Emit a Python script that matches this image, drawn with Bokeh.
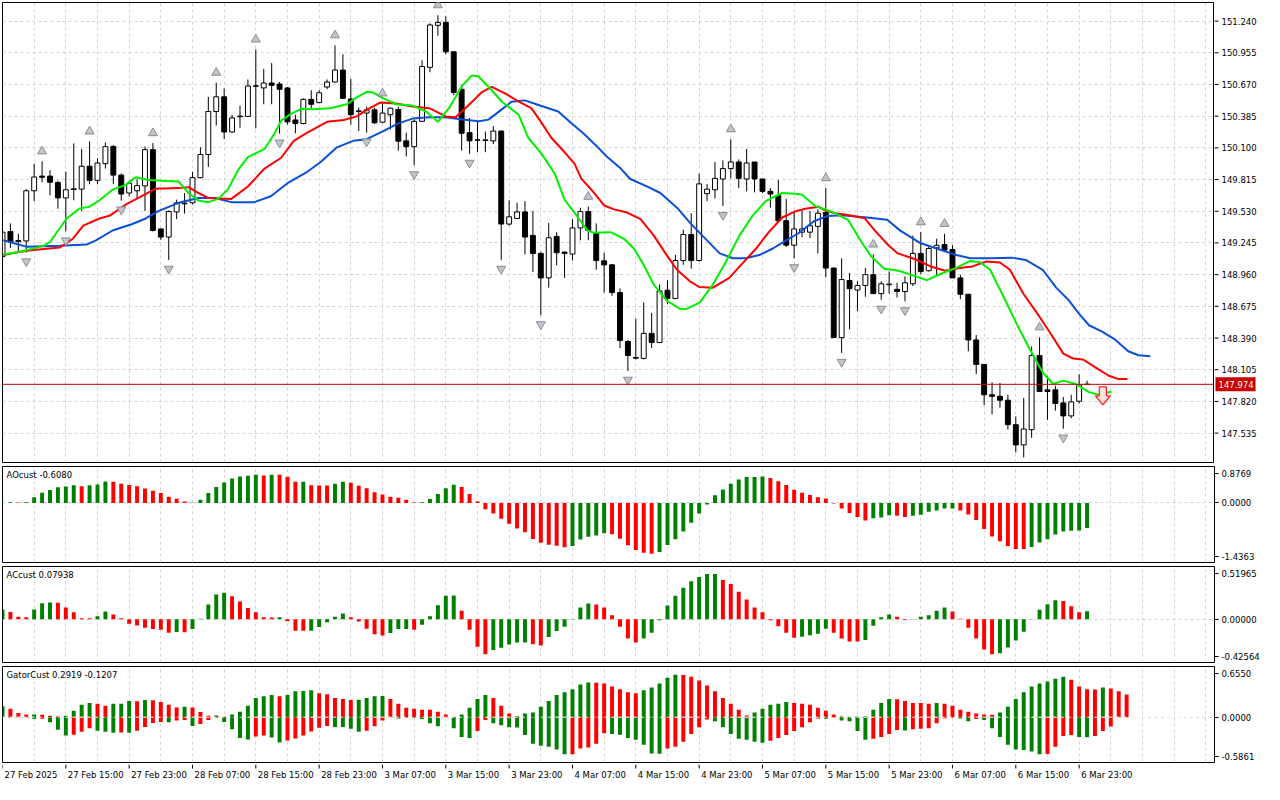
from bokeh.plotting import figure
from bokeh.models import Range1d, FixedTicker, Label, Span, ColumnDataSource, Grid
from bokeh.layouts import column, row
from bokeh.core.properties import value
from bokeh.embed import file_html
from bokeh.resources import INLINE

# ---------------- data ----------------
time_tick_bars = [0, 8, 16, 24, 32, 40, 48, 56, 64, 72, 80, 88, 96, 104, 112, 120, 128, 136]
time_tick_labels = ["27 Feb 2025", "27 Feb 15:00", "27 Feb 23:00", "28 Feb 07:00", "28 Feb 15:00",
                    "28 Feb 23:00", "3 Mar 07:00", "3 Mar 15:00", "3 Mar 23:00", "4 Mar 07:00",
                    "4 Mar 15:00", "4 Mar 23:00", "5 Mar 07:00", "5 Mar 15:00", "5 Mar 23:00",
                    "6 Mar 07:00", "6 Mar 15:00", "6 Mar 23:00"]
price_ticks = [151.240, 150.955, 150.670, 150.385, 150.100, 149.815, 149.530, 149.245,
               148.960, 148.675, 148.390, 148.105, 147.820, 147.535]

opens = [149.122, 149.348, 149.266, 149.263, 149.714, 149.846, 149.846, 149.788, 149.650, 149.726,
         149.729, 149.935, 149.808, 149.958, 150.113, 149.855, 149.694, 149.714, 149.758, 150.084,
         149.371, 149.298, 149.524, 149.597, 149.606, 149.832, 150.040, 150.427, 150.559, 150.243,
         150.380, 150.383, 150.653, 150.639, 150.683, 150.674, 150.639, 150.351, 150.319, 150.536,
         150.507, 150.647, 150.692, 150.800, 150.539, 150.427, 150.413, 150.442, 150.331, 150.398,
         150.445, 150.163, 150.111, 150.339, 150.824, 151.202, 151.228, 150.964, 150.627, 150.237,
         150.172, 150.166, 150.163, 150.251, 149.415, 149.465, 149.524, 149.313, 149.151, 148.931,
         149.304, 149.163, 149.145, 149.380, 149.527, 149.336, 149.084, 149.048, 148.799, 148.359,
         148.215, 148.207, 148.432, 148.350, 148.820, 148.746, 149.087, 149.321, 149.087, 149.688,
         149.723, 149.820, 149.914, 149.973, 149.820, 149.973, 149.820, 149.709, 149.671, 149.445,
         149.225, 149.342, 149.342, 149.394, 149.518, 149.019, 148.394, 148.907, 148.822, 148.863,
         148.960, 148.790, 148.869, 148.828, 148.808, 148.878, 149.151, 148.995, 149.201, 149.230,
         149.186, 148.931, 148.784, 148.373, 148.153, 147.880, 147.866, 147.831, 147.611, 147.429,
         147.566, 148.232, 147.924, 147.924, 147.807, 147.690, 147.822, 147.974]
highs = [149.371, 149.421, 149.327, 149.729, 149.958, 149.979, 149.899, 149.803, 149.885, 150.140,
         150.090, 150.158, 150.008, 150.149, 150.125, 149.870, 149.803, 149.817, 150.111, 150.143,
         149.377, 149.538, 149.635, 149.694, 149.885, 150.105, 150.559, 150.686, 150.633, 150.398,
         150.480, 150.715, 150.985, 150.809, 150.862, 150.692, 150.647, 150.398, 150.545, 150.618,
         150.618, 150.715, 151.023, 150.941, 150.721, 150.462, 150.471, 150.462, 150.500, 150.462,
         150.471, 150.237, 150.354, 150.888, 151.220, 151.293, 151.284, 150.964, 150.668, 150.369,
         150.334, 150.246, 150.295, 150.257, 149.629, 149.606, 149.621, 149.533, 149.166, 149.424,
         149.342, 149.166, 149.459, 149.562, 149.571, 149.421, 149.157, 149.054, 148.837, 148.374,
         148.564, 148.711, 148.617, 148.872, 148.908, 149.137, 149.365, 149.512, 149.870, 149.776,
         149.973, 149.987, 150.178, 149.996, 150.090, 149.973, 149.820, 149.738, 149.811, 149.641,
         149.533, 149.532, 149.532, 149.547, 149.738, 149.025, 149.107, 148.975, 148.901, 149.019,
         149.142, 148.901, 148.989, 148.887, 148.945, 149.312, 149.342, 149.218, 149.283, 149.327,
         149.224, 148.960, 148.784, 148.417, 148.153, 147.992, 147.986, 147.880, 147.684, 147.851,
         148.315, 148.397, 148.051, 147.962, 147.860, 147.880, 148.065, 148.007]
lows = [149.093, 149.201, 149.166, 149.160, 149.621, 149.791, 149.673, 149.553, 149.348, 149.629,
        149.533, 149.773, 149.776, 149.914, 149.776, 149.626, 149.665, 149.650, 149.533, 149.348,
        149.274, 149.093, 149.459, 149.509, 149.591, 149.826, 149.929, 150.301, 150.178, 150.237,
        150.281, 150.378, 150.275, 150.492, 150.492, 150.228, 150.310, 150.231, 150.310, 150.457,
        150.501, 150.627, 150.686, 150.545, 150.310, 150.251, 150.237, 150.316, 150.322, 150.266,
        150.075, 150.023, 149.943, 150.334, 150.780, 151.108, 150.941, 150.574, 150.075, 150.046,
        150.061, 150.061, 150.134, 149.093, 149.401, 149.459, 149.142, 148.984, 148.594, 148.843,
        149.043, 148.931, 149.087, 149.269, 149.269, 149.004, 148.799, 148.770, 148.300, 148.095,
        148.198, 148.198, 148.300, 148.344, 148.696, 148.740, 149.048, 149.013, 149.078, 149.621,
        149.644, 149.577, 149.826, 149.738, 149.709, 149.700, 149.694, 149.562, 149.430, 149.210,
        149.107, 149.298, 149.289, 149.151, 148.937, 148.394, 148.256, 148.467, 148.632, 148.761,
        148.784, 148.734, 148.790, 148.755, 148.720, 148.857, 148.966, 148.989, 148.945, 149.171,
        148.931, 148.740, 148.271, 148.065, 147.787, 147.704, 147.763, 147.567, 147.361, 147.317,
        147.493, 147.904, 147.655, 147.737, 147.575, 147.669, 147.801, 147.974]
closes = [149.342, 149.254, 149.257, 149.714, 149.838, 149.835, 149.791, 149.650, 149.723, 149.732,
          149.935, 149.808, 149.964, 150.111, 149.855, 149.685, 149.782, 149.761, 150.084, 149.357,
          149.298, 149.527, 149.606, 149.603, 149.832, 150.040, 150.427, 150.559, 150.243, 150.369,
          150.386, 150.656, 150.659, 150.683, 150.662, 150.627, 150.334, 150.319, 150.536, 150.492,
          150.595, 150.692, 150.800, 150.545, 150.398, 150.433, 150.442, 150.325, 150.413, 150.457,
          150.160, 150.111, 150.339, 150.832, 151.205, 151.228, 150.964, 150.598, 150.231, 150.163,
          150.169, 150.172, 150.251, 149.415, 149.480, 149.524, 149.298, 149.151, 148.931, 149.292,
          149.157, 149.151, 149.380, 149.527, 149.357, 149.087, 149.048, 148.799, 148.368, 148.233,
          148.209, 148.432, 148.350, 148.814, 148.746, 149.087, 149.321, 149.087, 149.776, 149.729,
          149.826, 149.914, 149.973, 149.826, 149.964, 149.820, 149.709, 149.685, 149.445, 149.225,
          149.371, 149.371, 149.400, 149.512, 149.019, 148.394, 148.916, 148.834, 148.863, 148.960,
          148.790, 148.878, 148.875, 148.808, 148.887, 149.151, 148.989, 149.195, 149.224, 149.180,
          148.931, 148.784, 148.373, 148.153, 147.880, 147.866, 147.831, 147.611, 147.429, 147.572,
          148.232, 147.910, 147.910, 147.801, 147.690, 147.816, 147.968, 147.974]

fractal_up_bars = [5, 11, 19, 27, 32, 42, 48, 55, 74, 92, 104, 110, 116, 119, 131]
fractal_down_bars = [3, 8, 15, 21, 35, 46, 52, 59, 63, 68, 79, 91, 100, 106, 111, 114, 129, 134]

jaw_x = [0.1, 3.1, 7.25, 10.6, 11.8, 13.9, 16.4, 18.1, 19.75, 22.25, 24.75, 26.8, 28.9, 31.8, 33.9, 36,
         38.5, 40.2, 42.25, 44.3, 46, 48.1, 50.0, 51.8, 53.9, 56, 58.1, 60.2, 61.4, 63.1, 64.3, 66,
         67.7, 70.2, 71.8, 73.5, 75.2, 76.4, 78.1, 79.3, 81.4, 83.1, 85.2, 86.8, 88.5, 90.6, 92.25,
         93.9, 95.6, 97.3, 99, 100.5, 102.5, 104.25, 106, 108.9, 111.75, 113.4, 115.9, 118, 120.2,
         122.25, 124.75, 127.5, 129.25, 131.4, 133.1, 134.75, 136, 137.25, 138.9, 140.6, 142.2, 143.5, 145]
jaw_y = [149.269, 149.210, 149.219, 149.230, 149.269, 149.357, 149.415, 149.465, 149.533, 149.606,
         149.650, 149.650, 149.612, 149.612, 149.665, 149.782, 149.885, 149.973, 150.105, 150.163,
         150.178, 150.251, 150.320, 150.363, 150.375, 150.375, 150.354, 150.339, 150.354, 150.448,
         150.515, 150.527, 150.486, 150.427, 150.325, 150.222, 150.105, 150.017, 149.914, 149.820,
         149.753, 149.694, 149.562, 149.430, 149.304, 149.151, 149.107, 149.107, 149.136, 149.195,
         149.269, 149.330, 149.440, 149.488, 149.494, 149.477, 149.453, 149.356, 149.245, 149.195,
         149.142, 149.107, 149.107, 149.113, 149.092, 149.004, 148.843, 148.725, 148.608, 148.505,
         148.447, 148.373, 148.271, 148.235, 148.227]
teeth_x = [0.1, 2.25, 3.9, 7.25, 8.9, 10.2, 12.25, 13.5, 15.6, 17.7, 19.3, 22.25, 23.5, 24.75, 26, 28.9,
           31, 33.1, 35.2, 36.8, 38.5, 41, 43.1, 44.75, 46, 47.7, 49.75, 51.8, 53.9, 56, 57.25, 58.9,
           60.6, 61.8, 63.5, 65.2, 66.8, 68.1, 69.3, 71, 72.25, 73.1, 74.75, 76, 77.25, 78.9, 80.6,
           82.25, 83.9, 85.2, 86.8, 88, 89.75, 91.8, 93.5, 95.2, 96.8, 98.5, 100, 101.4, 103.1, 103.9,
           105.2, 106.8, 108.9, 110.2, 111.9, 113.1, 115.2, 117.25, 119.1, 120.9, 122.5, 124.3, 126,
           127.25, 129, 130.6, 132.25, 134, 135.25, 136.5, 138.1, 139.75, 141, 142.1]
teeth_y = [149.137, 149.166, 149.181, 149.204, 149.283, 149.401, 149.465, 149.489, 149.591, 149.670,
           149.732, 149.738, 149.747, 149.694, 149.650, 149.641, 149.753, 149.914, 150.011, 150.163,
           150.237, 150.334, 150.351, 150.383, 150.442, 150.507, 150.498, 150.471, 150.457, 150.383,
           150.375, 150.486, 150.604, 150.648, 150.589, 150.515, 150.457, 150.325, 150.193, 150.061,
           149.958, 149.826, 149.694, 149.582, 149.547, 149.518, 149.459, 149.313, 149.136, 149.004,
           148.902, 148.849, 148.843, 148.931, 149.063, 149.195, 149.342, 149.474, 149.525, 149.553,
           149.570, 149.538, 149.512, 149.497, 149.468, 149.356, 149.224, 149.151, 149.101, 149.034,
           148.995, 149.019, 149.034, 149.078, 149.069, 149.004, 148.784, 148.623, 148.447, 148.250,
           148.206, 148.197, 148.124, 148.051, 148.021, 148.021]
lips_x = [0.1, 2.25, 5.2, 6, 8.1, 9.75, 11, 12.25, 13.9, 15.6, 16.8, 18.5, 20.6, 22.25, 23.5, 24.75, 26,
          27.25, 28.5, 29.75, 31, 33.1, 34.3, 35.2, 36.4, 37.7, 39.3, 41.4, 43.5, 44.75, 46, 46.8, 48.1,
          49.75, 51.8, 53.5, 55, 56.4, 58.1, 59.3, 60.1, 61.8, 63.1, 65.2, 66.4, 68.1, 69.75, 71, 72.7,
          73.9, 74.75, 76.8, 78.5, 79.75, 81, 82.25, 83.9, 85.6, 86.4, 88.1, 89.75, 91.4, 93.1, 94.75,
          96.4, 98.5, 100.2, 101, 102.7, 104.75, 106.8, 108.5, 109.75, 111.4, 113.1, 114.75, 116.8,
          118.5, 120.6, 122.25, 123.5, 124.75, 126.4, 128.1, 129.75, 131.4, 132.7, 134, 135.6, 137.25,
          138.5, 140.1]
lips_y = [149.142, 149.166, 149.219, 149.254, 149.465, 149.556, 149.571, 149.629, 149.723, 149.767,
          149.835, 149.811, 149.803, 149.797, 149.694, 149.626, 149.612, 149.641, 149.729, 149.899,
          150.017, 150.090, 150.222, 150.345, 150.404, 150.451, 150.448, 150.457, 150.492, 150.554,
          150.604, 150.598, 150.545, 150.492, 150.480, 150.427, 150.334, 150.457, 150.662, 150.750,
          150.744, 150.618, 150.515, 150.398, 150.193, 150.046, 149.870, 149.635, 149.474, 149.357,
          149.336, 149.342, 149.283, 149.195, 149.048, 148.872, 148.726, 148.652, 148.652, 148.711,
          148.872, 149.078, 149.313, 149.489, 149.621, 149.694, 149.687, 149.679, 149.576, 149.526,
          149.453, 149.254, 149.122, 149.013, 148.998, 148.960, 148.910, 148.966, 149.025, 149.083,
          149.072, 149.004, 148.769, 148.520, 148.291, 148.080, 147.977, 148.007, 147.977, 147.904,
          147.880, 147.910]

ao_first_bar = 1
ao_values = [0.015, 0.008, 0.016, 0.138, 0.246, 0.308, 0.377, 0.392, 0.423, 0.400,
             0.423, 0.446, 0.515, 0.508, 0.462, 0.431, 0.400, 0.346, 0.292, 0.238,
             0.146, 0.100, 0.031, 0.004, 0.077, 0.238, 0.385, 0.492, 0.585, 0.638,
             0.654, 0.677, 0.662, 0.679, 0.676, 0.631, 0.508, 0.510, 0.423, 0.421,
             0.419, 0.462, 0.508, 0.485, 0.415, 0.354, 0.254, 0.200, 0.146, 0.123,
             0.077, 0.008, 0.015, 0.092, 0.215, 0.354, 0.438, 0.385, 0.215, 0.031,
             -0.154, -0.254, -0.385, -0.500, -0.615, -0.708, -0.869, -0.962, -1.008, -1.031,
             -1.069, -1.038, -0.885, -0.815, -0.785, -0.731, -0.754, -0.862, -1.023, -1.138,
             -1.200, -1.223, -1.185, -1.015, -0.877, -0.692, -0.477, -0.254, -0.038, 0.185,
             0.323, 0.462, 0.562, 0.623, 0.625, 0.638, 0.600, 0.523, 0.431, 0.315,
             0.246, 0.192, 0.138, 0.108, -0.015, -0.138, -0.246, -0.338, -0.423, -0.369,
             -0.354, -0.300, -0.308, -0.338, -0.308, -0.285, -0.215, -0.185, -0.138, -0.136,
             -0.185, -0.277, -0.415, -0.631, -0.808, -0.923, -1.038, -1.108, -1.110, -1.062,
             -0.954, -0.877, -0.762, -0.692, -0.669, -0.667, -0.608]
ac_first_bar = 0
ac_values = [0.097, 0.071, 0.026, 0.019, 0.097, 0.158, 0.165, 0.163, 0.116, 0.068,
             0.010, 0.009, 0.029, 0.077, 0.048, 0.010, -0.045, -0.061, -0.084, -0.097,
             -0.103, -0.132, -0.126, -0.127, -0.097, 0.006, 0.145, 0.245, 0.261, 0.226,
             0.174, 0.110, 0.068, 0.019, 0.018, 0.020, -0.019, -0.113, -0.114, -0.112,
             -0.077, -0.029, 0.026, 0.058, 0.019, -0.023, -0.094, -0.148, -0.161, -0.135,
             -0.097, -0.096, -0.103, -0.055, 0.029, 0.139, 0.232, 0.233, 0.084, -0.103,
             -0.271, -0.345, -0.303, -0.281, -0.248, -0.229, -0.228, -0.245, -0.258, -0.174,
             -0.116, -0.074, -0.003, 0.116, 0.155, 0.145, 0.116, 0.039, -0.074, -0.190,
             -0.229, -0.190, -0.132, -0.010, 0.135, 0.232, 0.310, 0.374, 0.416, 0.445,
             0.446, 0.387, 0.348, 0.271, 0.194, 0.116, 0.068, -0.010, -0.068, -0.132,
             -0.181, -0.171, -0.158, -0.142, -0.094, -0.132, -0.190, -0.219, -0.220, -0.203,
             -0.065, 0.019, 0.048, 0.026, -0.006, 0.002, 0.026, 0.039, 0.084, 0.116,
             0.077, 0.006, -0.084, -0.190, -0.297, -0.345, -0.335, -0.277, -0.210, -0.123,
             -0.003, 0.094, 0.148, 0.187, 0.181, 0.129, 0.068, 0.07938]
gator_first_bar = 0
gator_upper = [0.142, 0.109, 0.054, 0.033, 0.035, 0.032, 0.017, 0.008, 0.017, 0.084,
               0.159, 0.184, 0.172, 0.146, 0.172, 0.174, 0.209, 0.207, 0.222, 0.220,
               0.197, 0.159, 0.126, 0.134, 0.126, 0.067, 0.017, 0.021, 0.004, 0.033,
               0.071, 0.146, 0.247, 0.272, 0.285, 0.272, 0.285, 0.335, 0.337, 0.347,
               0.310, 0.297, 0.247, 0.234, 0.222, 0.224, 0.247, 0.272, 0.274, 0.234,
               0.172, 0.121, 0.109, 0.096, 0.095, 0.071, 0.033, 0.004, 0.033, 0.121,
               0.234, 0.285, 0.247, 0.146, 0.046, 0.013, 0.046, 0.059, 0.134, 0.209,
               0.285, 0.322, 0.360, 0.423, 0.448, 0.446, 0.435, 0.397, 0.360, 0.322,
               0.310, 0.347, 0.385, 0.435, 0.510, 0.548, 0.546, 0.523, 0.473, 0.410,
               0.335, 0.247, 0.172, 0.096, 0.021, 0.059, 0.109, 0.159, 0.172, 0.197,
               0.184, 0.172, 0.159, 0.121, 0.084, 0.033, 0.010, 0.006, 0.008, 0.012,
               0.096, 0.184, 0.234, 0.232, 0.209, 0.184, 0.182, 0.172, 0.184, 0.172,
               0.146, 0.096, 0.071, 0.046, 0.033, 0.032, 0.059, 0.134, 0.234, 0.322,
               0.397, 0.435, 0.460, 0.498, 0.523, 0.485, 0.397, 0.360, 0.358, 0.385,
               0.372, 0.335, 0.2919]
gator_lower = [-0.004, -0.008, -0.004, -0.008, -0.025, -0.021, -0.067, -0.163, -0.238, -0.226,
               -0.188, -0.142, -0.176, -0.188, -0.201, -0.199, -0.203, -0.176, -0.126, -0.075,
               -0.063, -0.065, -0.042, -0.038, -0.113, -0.088, -0.038, -0.008, -0.063, -0.155,
               -0.268, -0.289, -0.251, -0.238, -0.264, -0.326, -0.301, -0.276, -0.238, -0.184,
               -0.138, -0.113, -0.126, -0.128, -0.151, -0.188, -0.176, -0.117, -0.042, -0.002,
               -0.017, -0.004, -0.006, -0.025, -0.079, -0.117, -0.008, -0.142, -0.255, -0.268,
               -0.180, -0.038, -0.079, -0.105, -0.130, -0.132, -0.230, -0.343, -0.368, -0.381,
               -0.418, -0.481, -0.479, -0.406, -0.393, -0.343, -0.209, -0.218, -0.226, -0.268,
               -0.293, -0.356, -0.469, -0.473, -0.406, -0.381, -0.318, -0.218, -0.130, -0.029,
               -0.054, -0.130, -0.218, -0.280, -0.293, -0.318, -0.331, -0.305, -0.268, -0.230,
               -0.180, -0.130, -0.067, -0.017, -0.021, -0.004, -0.042, -0.054, -0.180, -0.293,
               -0.280, -0.255, -0.218, -0.167, -0.172, -0.155, -0.151, -0.142, -0.079, -0.013,
               -0.004, -0.017, -0.054, -0.025, -0.038, -0.142, -0.255, -0.356, -0.418, -0.423,
               -0.444, -0.481, -0.477, -0.381, -0.243, -0.230, -0.255, -0.259, -0.243, -0.180,
               -0.1207]

bid_price = 147.974
sell_arrow_bar = 139
sell_arrow_tip = 147.79

main_range = (147.271, 151.407)
ao_range = (-1.4363, 0.8769)
ac_range = (-0.42564, 0.51965)
gator_range = (-0.5861, 0.6550)

# ---------------- styling / layout ----------------
W = 1264
BL, BR = 2, 50
X0, X1 = 0.0, 153.1
FONT = "DejaVu Sans"
FS = "8.5px"
GRID_C = "#d4d4d4"
GRID_D = "3 3"
GREEN = "#008000"
RED = "#ff0000"

XR = Range1d(X0, X1)
frame_w = W - BL - BR
ppb = frame_w / (X1 - X0)


def style_common(p):
    p.outline_line_color = "black"
    p.outline_line_width = 1
    p.background_fill_color = "white"
    p.border_fill_color = "white"
    p.grid.grid_line_color = None


def add_grids(p, ygrid_ticks):
    p.add_layout(Grid(dimension=0, ticker=FixedTicker(ticks=list(range(0, 154, 4))),
                      grid_line_color=GRID_C, grid_line_dash=GRID_D, level="underlay"))
    p.add_layout(Grid(dimension=1, ticker=FixedTicker(ticks=ygrid_ticks),
                      grid_line_color=GRID_C, grid_line_dash=GRID_D, level="underlay"))


def make_panel(h, yr, ygrid_ticks):
    p = figure(width=W, height=h, x_range=XR, y_range=Range1d(*yr),
               output_backend="svg", toolbar_location=None,
               y_axis_location="right", x_axis_location=None,
               min_border_left=BL, min_border_right=BR,
               min_border_top=2, min_border_bottom=2)
    style_common(p)
    add_grids(p, ygrid_ticks)
    ya = p.yaxis[0]
    ya.axis_line_color = None
    ya.major_tick_out = 4
    ya.major_tick_in = 0
    ya.minor_tick_line_color = None
    ya.major_label_standoff = 3
    ya.major_label_text_font = FONT
    ya.major_label_text_font_size = FS
    ya.major_label_text_color = "black"
    return p


def inner_ticks(yr, frame_h, fmt):
    lo, hi = yr
    ppu = frame_h / (hi - lo)
    t_hi = hi - 7 / ppu
    t_lo = lo + 6 / ppu
    ticks = [t_lo, 0.0, t_hi]
    overrides = {t_lo: fmt % lo, 0.0: fmt % 0.0, t_hi: fmt % hi}
    return ticks, overrides


def add_title(p, yr, text):
    p.add_layout(Label(x=X0, y=yr[1], x_offset=4, y_offset=-3, text=text,
                       text_align="left", text_baseline="top", text_color="black",
                       text_font=FONT, text_font_size=FS))


def colors_for(vals, use_abs=False):
    out = []
    for k, v in enumerate(vals):
        if k == 0:
            out.append(GREEN)
            continue
        a, b = (abs(v), abs(vals[k - 1])) if use_abs else (v, vals[k - 1])
        out.append(GREEN if a > b else RED)
    return out


# ---- main price panel (plot + hand-made price scale) ----
H1 = 464
p1 = figure(width=W - BR, height=H1, x_range=XR, y_range=Range1d(*main_range),
            output_backend="svg", toolbar_location=None,
            y_axis_location=None, x_axis_location=None,
            min_border_left=BL, min_border_right=0, min_border_top=2, min_border_bottom=2)
style_common(p1)
add_grids(p1, price_ticks)
main_frame_h = H1 - 4
ppp = main_frame_h / (main_range[1] - main_range[0])

idx = list(range(len(opens)))
src = ColumnDataSource(dict(
    x=idx, high=highs, low=lows,
    top=[max(o, c) for o, c in zip(opens, closes)],
    bot=[min(o, c) for o, c in zip(opens, closes)],
    fill=["white" if c >= o else "black" for o, c in zip(opens, closes)],
))
p1.segment(x0="x", y0="low", x1="x", y1="high", source=src, line_color="black", line_width=1)
p1.vbar(x="x", width=0.62, top="top", bottom="bot", fill_color="fill",
        line_color="black", line_width=1, source=src)

p1.line(jaw_x, jaw_y, line_color="#0b4fd6", line_width=2)
p1.line(teeth_x, teeth_y, line_color="#ff0000", line_width=2)
p1.line(lips_x, lips_y, line_color="#00f000", line_width=2)

up_y = [highs[i] + 10 / ppp for i in fractal_up_bars]
dn_y = [lows[i] - 9 / ppp for i in fractal_down_bars]
p1.scatter(fractal_up_bars, up_y, marker="triangle", size=9,
           fill_color="#c2c4ca", line_color="#8a8d94", line_width=1)
p1.scatter(fractal_down_bars, dn_y, marker="inverted_triangle", size=9,
           fill_color="#c2c4ca", line_color="#8a8d94", line_width=1)

p1.add_layout(Span(location=bid_price, dimension="width", line_color="#c00000", line_width=1))

cx = sell_arrow_bar
tip = sell_arrow_tip
hw_head, hw_shaft = 7.5 / ppb, 3.5 / ppb
h_tot, h_head = 18 / ppp, 9 / ppp
ax = [cx - hw_shaft, cx + hw_shaft, cx + hw_shaft, cx + hw_head, cx, cx - hw_head, cx - hw_shaft]
ay = [tip + h_tot, tip + h_tot, tip + h_head, tip + h_head, tip, tip + h_head, tip + h_head]
p1.patch(ax, ay, fill_color="#ffe2e2", line_color="#ff2a2a", line_width=1.3)

# price scale strip (x in screen pixels)
p1s = figure(width=BR, height=H1, x_range=Range1d(0, BR), y_range=p1.y_range,
             output_backend="svg", toolbar_location=None,
             y_axis_location=None, x_axis_location=None,
             min_border_left=0, min_border_right=0, min_border_top=2, min_border_bottom=2)
p1s.outline_line_color = None
p1s.grid.grid_line_color = None
p1s.background_fill_color = "white"
p1s.border_fill_color = "white"
p1s.segment(x0=[0] * len(price_ticks), x1=[4] * len(price_ticks), y0=price_ticks, y1=price_ticks,
            line_color="black", line_width=1)
p1s.text(x=[7] * len(price_ticks), y=price_ticks, text=["%.3f" % t for t in price_ticks],
         text_font=value(FONT), text_font_size=FS, text_color="black",
         text_align="left", text_baseline="middle")
p1s.quad(left=[1], right=[41], top=[bid_price + 7 / ppp], bottom=[bid_price - 7 / ppp],
         fill_color="#c80000", line_color=None)
p1s.text(x=[4], y=[bid_price], text=["%.3f" % bid_price], text_font=value(FONT),
         text_font_size=FS, text_color="white", text_align="left", text_baseline="middle")

# ---- AO ----
H2 = 100
p2 = make_panel(H2, ao_range, [0.0])
t, o = inner_ticks(ao_range, H2 - 4, "%.4f")
p2.yaxis.ticker = FixedTicker(ticks=t)
p2.yaxis.major_label_overrides = o
ao_x = list(range(ao_first_bar, ao_first_bar + len(ao_values)))
p2.vbar(x=ao_x, width=0.5, top=ao_values, bottom=0, fill_color=colors_for(ao_values),
        line_color=None)
add_title(p2, ao_range, "AOcust %.4f" % ao_values[-1])

# ---- AC ----
H3 = 100
p3 = make_panel(H3, ac_range, [0.0])
t, o = inner_ticks(ac_range, H3 - 4, "%.5f")
p3.yaxis.ticker = FixedTicker(ticks=t)
p3.yaxis.major_label_overrides = o
ac_x = list(range(ac_first_bar, ac_first_bar + len(ac_values)))
p3.vbar(x=ac_x, width=0.5, top=ac_values, bottom=0, fill_color=colors_for(ac_values),
        line_color=None)
add_title(p3, ac_range, "ACcust %.5f" % ac_values[-1])

# ---- Gator ----
H4 = 100
p4 = make_panel(H4, gator_range, [0.0])
t, o = inner_ticks(gator_range, H4 - 4, "%.4f")
p4.yaxis.ticker = FixedTicker(ticks=t)
p4.yaxis.major_label_overrides = o
gu_x = list(range(gator_first_bar, gator_first_bar + len(gator_upper)))
gl_x = list(range(gator_first_bar, gator_first_bar + len(gator_lower)))
p4.vbar(x=gu_x, width=0.5, top=gator_upper, bottom=0, fill_color=colors_for(gator_upper),
        line_color=None)
p4.vbar(x=gl_x, width=0.5, top=0, bottom=gator_lower, fill_color=colors_for(gator_lower, True),
        line_color=None)
p4.add_layout(Span(location=0, dimension="width", line_color="white", line_width=1, line_dash="4 3"))
add_title(p4, gator_range, "GatorCust %.4f %.4f" % (gator_upper[-1], gator_lower[-1]))

# ---- time scale strip (y in screen pixels, 0 = bottom) ----
HS = 20
ps = figure(width=W, height=HS, x_range=XR, y_range=Range1d(0, HS),
            output_backend="svg", toolbar_location=None,
            y_axis_location=None, x_axis_location=None,
            min_border_left=BL, min_border_right=BR, min_border_top=0, min_border_bottom=0)
ps.outline_line_color = None
ps.grid.grid_line_color = None
ps.background_fill_color = "white"
ps.border_fill_color = "white"
ps.segment(x0=time_tick_bars, x1=time_tick_bars, y0=[HS] * len(time_tick_bars),
           y1=[HS - 4] * len(time_tick_bars), line_color="black", line_width=1)
ps.text(x=[b + 2 / ppb for b in time_tick_bars], y=[HS - 10] * len(time_tick_bars),
        text=time_tick_labels, text_font=value(FONT), text_font_size=FS, text_color="black",
        text_align="left", text_baseline="middle")

layout = column(row(p1, p1s, spacing=0), p2, p3, p4, ps, spacing=0)
open("out.html", "w").write(file_html(layout, INLINE))
